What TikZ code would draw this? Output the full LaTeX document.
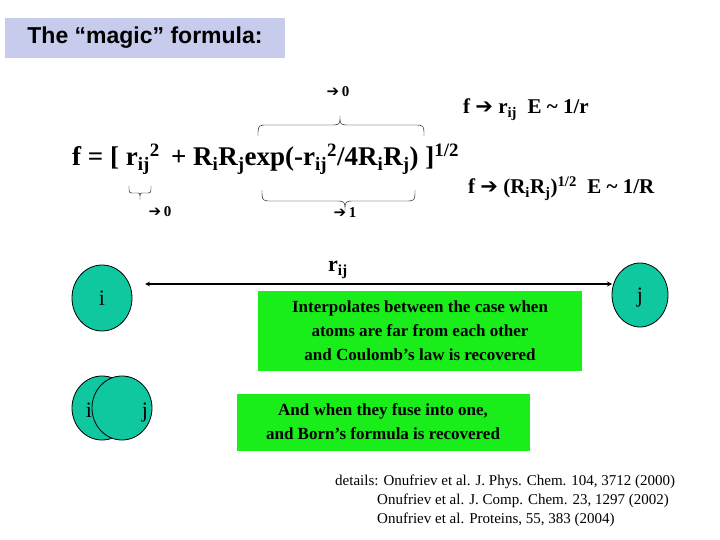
\documentclass[tikz,border=0pt]{standalone}
\usepackage{fontspec}
\setmainfont{Liberation Serif}
\newfontfamily\arial{Liberation Sans}
\newfontfamily\djvfont{DejaVu Sans}
\usetikzlibrary{shapes.geometric}
\definecolor{atom}{HTML}{10C8A0}
\definecolor{gbox}{HTML}{1AEE1A}
\definecolor{tbox}{HTML}{C8CCEC}
\newcommand{\ar}{{\djvfont ➔}}
\tikzset{atomst/.style={ellipse,draw=black,thick,fill=atom,minimum width=60pt,minimum height=66pt,inner sep=0pt},
 atomlab/.style={font=\fontsize{22}{24}\selectfont},
 greenst/.style={fill=gbox,align=center,font=\fontsize{17}{24}\selectfont\bfseries},
 formula/.style={font=\fontsize{27}{30}\selectfont\bfseries,anchor=base west,inner sep=0pt},
 sideeq/.style={font=\fontsize{21}{25}\selectfont\bfseries,anchor=base west,inner sep=0pt},
 lim/.style={font=\fontsize{15}{16}\selectfont\bfseries,inner sep=0pt},
 bracest/.style={draw=black,thin}}
\begin{document}
\begin{tikzpicture}[x=1pt,y=-1pt]
\useasboundingbox (0,0) rectangle (720,540);
\node[fill=tbox,minimum width=280pt,minimum height=40pt,font=\arial\fontsize{23}{26}\selectfont\bfseries] (title) at (145,38) {The “magic” formula:};
\node[formula] (f) at (72,166) {f = [ r\textsubscript{ij}\textsuperscript{2}\, + R\textsubscript{i}R\textsubscript{j}exp(-r\textsubscript{ij}\textsuperscript{2}/4R\textsubscript{i}R\textsubscript{j}) ]\textsuperscript{1/2}};
\coordinate (tb1) at (258,136); \coordinate (tbt) at (340,116); \coordinate (tb2) at (424,136);
\draw[bracest] (tb1) .. controls (258,125) .. (268,125) -- (330,125) .. controls (340,125) .. (tbt) .. controls (340,125) .. (350,125) -- (414,125) .. controls (424,125) .. (tb2);
\coordinate (bb1) at (262,190); \coordinate (bbt) at (345,211); \coordinate (bb2) at (415,190);
\draw[bracest] (bb1) .. controls (262,201) .. (272,201) -- (335,201) .. controls (345,201) .. (bbt) .. controls (345,201) .. (355,201) -- (405,201) .. controls (415,201) .. (bb2);
\coordinate (sb1) at (129,186); \coordinate (sbt) at (140,200); \coordinate (sb2) at (151,186);
\draw[bracest] (sb1) .. controls (129,193) .. (133,193) -- (137,193) .. controls (140,193) .. (sbt) .. controls (140,193) .. (143,193) -- (147,193) .. controls (151,193) .. (sb2);
\node[lim] (l0a) at (338,92) {\ar\,0};
\node[lim] (l0b) at (160,212) {\ar\,0};
\node[lim] (l1) at (345,213) {\ar\,1};
\node[sideeq] (s1) at (463,114) {f \ar\ r\textsubscript{ij}\ \ E \textasciitilde\ 1/r};
\node[sideeq] (s2) at (468,194) {f \ar\ (R\textsubscript{i}R\textsubscript{j})\textsuperscript{1/2}\ \ E \textasciitilde\ 1/R};
\node[atomst] (i) at (102,298) {};
\node[atomlab] at (i) {i};
\node[atomst,minimum width=56pt,minimum height=64pt] (j) at (640,295) {};
\node[atomlab] at ([yshift=-3pt]j.center) {j};
\coordinate (al) at (145,284); \coordinate (arr) at (612,284);
\draw[very thick,<->,>=stealth] (al) -- (arr);
\node[font=\fontsize{22}{24}\selectfont\bfseries] (rij) at (338,270) {r\textsubscript{ij}};
\node[greenst,minimum width=324pt,minimum height=80pt] (g1) at (420,331) {Interpolates between the case when\\atoms are far from each other\\and Coulomb’s law is recovered};
\node[atomst,minimum height=64pt] (fi) at (102,408) {};
\node[atomst,minimum height=64pt] (fj) at (122,408) {};
\node[atomlab] (li) at (89,410) {i};
\node[atomlab] (lj) at (145,413) {j};
\node[greenst,minimum width=293pt,minimum height=57pt] (g2) at (383,422) {And when they fuse into one,\\and Born’s formula is recovered};
\node[align=left,anchor=north west,inner sep=0pt,font=\fontsize{15}{19}\selectfont] (det) at (335,475) {details: Onufriev et al. J. Phys. Chem. 104, 3712 (2000)\\\hspace*{42pt}Onufriev et al. J. Comp. Chem. 23, 1297 (2002)\\\hspace*{42pt}Onufriev et al. Proteins, 55, 383 (2004)};
\end{tikzpicture}
\end{document}
